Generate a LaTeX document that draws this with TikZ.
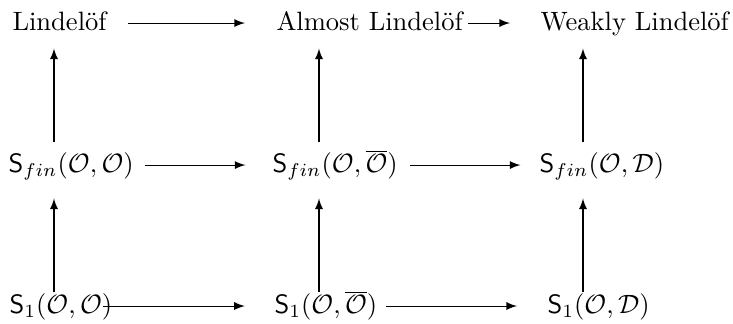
\documentclass[tikz,border=0pt]{standalone}
\usepackage{amsmath,amssymb}
\usetikzlibrary{positioning,arrows}
\begin{document}
\begin{tikzpicture}[x=0.377pt,y=-0.377pt,
		prop/.style={anchor=base west,inner sep=0pt,text height=8pt,text depth=2pt},
		imp/.style={->,>=latex}]
	\useasboundingbox (0,0) rectangle (733,324);
	\coordinate (c1) at (54,0);
	\coordinate (c2) at (319,0);
	\coordinate (c3) at (583,0);
	% top row
	\node[prop] (lin) at (12,31) {Lindel\"of};
	\node[prop] (alin) at (276,31) {Almost Lindel\"of};
	\node[prop] (wlin) at (540,31) {Weakly Lindel\"of};
	% middle row
	\node[prop] (fOO) at (8,173) {$\mathsf{S}_{fin}(\mathcal{O},\mathcal{O})$};
	\node[prop] (fOb) at (272,173) {$\mathsf{S}_{fin}(\mathcal{O},\overline{\mathcal{O}})$};
	\node[prop] (fOD) at (539,173) {$\mathsf{S}_{fin}(\mathcal{O},\mathcal{D})$};
	% bottom row
	\node[prop] (oOO) at (9,314) {$\mathsf{S}_1(\mathcal{O},\mathcal{O})$};
	\node[prop] (oOb) at (274,314) {$\mathsf{S}_1(\mathcal{O},\overline{\mathcal{O}})$};
	\node[prop] (oOD) at (547,314) {$\mathsf{S}_1(\mathcal{O},\mathcal{D})$};
	% horizontal
	\draw[imp,shorten <=7.9pt,shorten >=11.7pt] (lin) -- (alin);
	\draw[imp,shorten <=1.9pt,shorten >=11.3pt] (alin) -- (wlin);
	\draw[imp,shorten <=4pt,shorten >=10pt] (fOO) -- (fOb);
	\draw[imp,shorten <=4.5pt,shorten >=7pt] (fOb) -- (fOD);
	\draw[imp,shorten <=-3.8pt,shorten >=11pt] (oOO) -- (oOb);
	\draw[imp,shorten <=3pt,shorten >=11.3pt] (oOb) -- (oOD);
	% vertical
	\foreach \lo/\hi/\c in {fOO/lin/c1, fOb/alin/c2, fOD/wlin/c3}
		{\draw[imp,shorten <=3.3pt,shorten >=4.4pt] (\lo.north -| \c) -- (\hi.south -| \c);}
	\foreach \lo/\hi/\c in {oOO/fOO/c1, oOb/fOb/c2, oOD/fOD/c3}
		{\draw[imp,shorten >=7.4pt] (\lo.north -| \c) -- (\hi.south -| \c);}
\end{tikzpicture}
\end{document}
